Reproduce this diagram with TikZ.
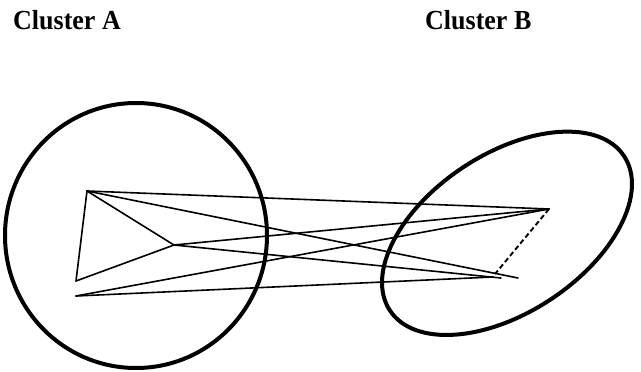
\documentclass[tikz,border=0pt]{standalone}
\usepackage{fontspec}
\setmainfont{Liberation Serif}
\usetikzlibrary{shapes.geometric}
\begin{document}
\begin{tikzpicture}[x=1pt,y=-1pt,
  cluster/.style={draw=black,line width=4pt,inner sep=0pt,outer sep=0pt},
  link/.style={line width=1.6pt,line cap=round},
  dashlink/.style={line width=1.9pt,dash pattern=on 5pt off 3pt},
  title/.style={anchor=base west,inner sep=0pt,font=\fontsize{26}{30}\selectfont\bfseries,yscale=1.06}]
\useasboundingbox (0,0) rectangle (641,372);
\node[title] (ta) at (13,30) {Cluster A};
\node[title] (tb) at (425,30) {Cluster B};
\node[cluster,ellipse,minimum width=262pt,minimum height=265pt] (ca) at (136,235.5) {};
\node[cluster,ellipse,minimum width=280.5pt,minimum height=158.5pt,rotate=33.4] (cb) at (507,233.3) {};
\coordinate (p1) at (87,191);
\coordinate (p2) at (174,245);
\coordinate (p3) at (76,281);
\coordinate (p4) at (76,296);
\coordinate (q1) at (549,209);
\coordinate (q2) at (495,274);
\coordinate (e1) at (518,278);
\coordinate (e2) at (501,278);
\coordinate (e3) at (493,277);
\draw[link] (p1) -- (q1);
\draw[link] (p1) -- (p2);
\draw[link] (p1) -- (p3);
\draw[link] (p1) -- (e1);
\draw[link] (p2) -- (p3);
\draw[link] (p2) -- (q1);
\draw[link] (p2) -- (e2);
\draw[link] (p4) -- (q1);
\draw[link] (p4) -- (e3);
\draw[dashlink] (q1) -- (q2);
\end{tikzpicture}
\end{document}
